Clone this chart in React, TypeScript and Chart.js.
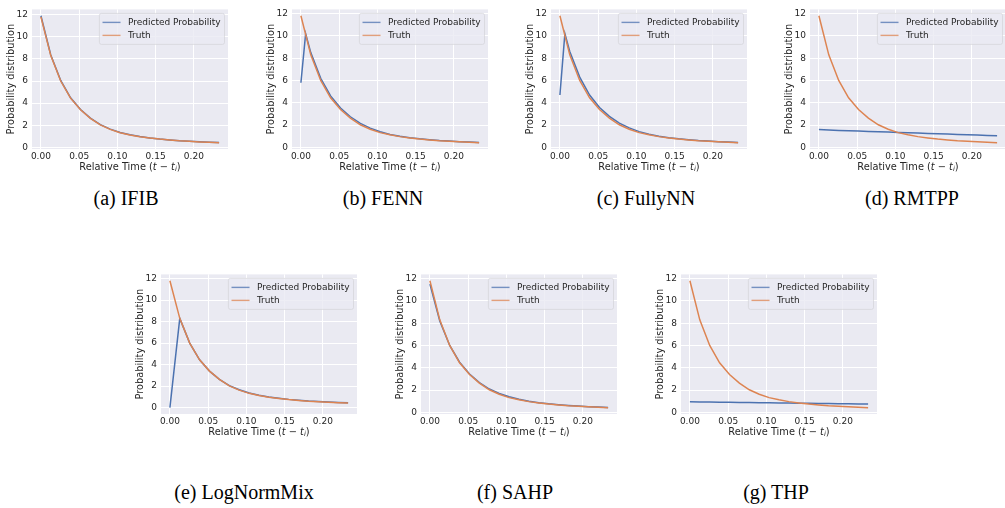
import React, { useEffect, useRef } from "react";
import { Chart, registerables } from "chart.js";
Chart.register(...registerables);

// ---- data ----
const T = [0, 0.0129, 0.0259, 0.0388, 0.0518, 0.0647, 0.0777, 0.0906, 0.1036, 0.1165, 0.1294, 0.1424, 0.1553, 0.1683, 0.1812, 0.1942, 0.2071, 0.2201, 0.233];
const TRUTH = [11.8, 8.3, 6.0, 4.45, 3.4, 2.63, 2.03, 1.63, 1.33, 1.13, 0.97, 0.85, 0.75, 0.67, 0.6, 0.55, 0.5, 0.46, 0.43];

const T_IFIB = T;
const P_IFIB = [11.9, 8.35, 6.05, 4.48, 3.42, 2.65, 2.06, 1.65, 1.35, 1.15, 0.99, 0.86, 0.76, 0.68, 0.61, 0.56, 0.51, 0.47, 0.44];

const T_FENN = [0, 0.0062, 0.0129, 0.0259, 0.0388, 0.0518, 0.0647, 0.0777, 0.0906, 0.1036, 0.1165, 0.1294, 0.1424, 0.1553, 0.1683, 0.1812, 0.1942, 0.2071, 0.2201, 0.233];
const P_FENN = [5.8, 10.2, 8.5, 6.2, 4.62, 3.53, 2.75, 2.15, 1.73, 1.4, 1.17, 1.0, 0.87, 0.77, 0.69, 0.62, 0.57, 0.52, 0.48, 0.45];

const T_FULLYNN = [0, 0.0065, 0.0129, 0.0259, 0.0388, 0.0518, 0.0647, 0.0777, 0.0906, 0.1036, 0.1165, 0.1294, 0.1424, 0.1553, 0.1683, 0.1812, 0.1942, 0.2071, 0.2201, 0.233];
const P_FULLYNN = [4.7, 10.2, 8.6, 6.3, 4.7, 3.58, 2.78, 2.18, 1.75, 1.42, 1.18, 1.0, 0.87, 0.77, 0.69, 0.62, 0.57, 0.52, 0.48, 0.45];

const T_RMTPP = T;
const P_RMTPP = [1.6, 1.57, 1.53, 1.5, 1.47, 1.44, 1.41, 1.38, 1.35, 1.32, 1.29, 1.26, 1.23, 1.2, 1.17, 1.14, 1.11, 1.08, 1.05];

const T_LOGNORM = T;
const P_LOGNORM = [0, 8.3, 6.0, 4.45, 3.4, 2.63, 2.05, 1.66, 1.36, 1.15, 0.99, 0.87, 0.77, 0.69, 0.62, 0.57, 0.52, 0.48, 0.45];

const T_SAHP = T;
const P_SAHP = [11.5, 8.2, 6.0, 4.5, 3.45, 2.68, 2.1, 1.7, 1.4, 1.18, 1.01, 0.88, 0.78, 0.7, 0.63, 0.57, 0.52, 0.48, 0.45];

const T_THP = T;
const P_THP = [0.95, 0.94, 0.93, 0.92, 0.91, 0.9, 0.89, 0.875, 0.865, 0.855, 0.845, 0.835, 0.82, 0.81, 0.8, 0.79, 0.775, 0.765, 0.755];

const X_TICKS = [0, 0.05, 0.1, 0.15, 0.2];
const Y_TICKS = [0, 2, 4, 6, 8, 10, 12];
const LEGEND_LABELS = ["Predicted Probability", "Truth"];
const X_TITLE = "Relative Time";
const Y_TITLE = "Probability distribution";

const BLUE = "#4C72B0";
const ORANGE = "#DD8452";
const TEXT = "#262626";
const BG = "#EAEAF2";

type PanelDef = {
  px: number[];
  py: number[];
  plotLeft: number;
  plotTop: number;
  caption: string;
  capX: number;
  capY: number;
};

const PANELS: PanelDef[] = [
  { px: T_IFIB, py: P_IFIB, plotLeft: 32, plotTop: 2, caption: "(a) IFIB", capX: 126, capY: 198 },
  { px: T_FENN, py: P_FENN, plotLeft: 292, plotTop: 2, caption: "(b) FENN", capX: 383, capY: 198 },
  { px: T_FULLYNN, py: P_FULLYNN, plotLeft: 551, plotTop: 2, caption: "(c) FullyNN", capX: 646, capY: 198 },
  { px: T_RMTPP, py: P_RMTPP, plotLeft: 810, plotTop: 2, caption: "(d) RMTPP", capX: 912, capY: 198 },
  { px: T_LOGNORM, py: P_LOGNORM, plotLeft: 161, plotTop: 267, caption: "(e) LogNormMix", capX: 244, capY: 492 },
  { px: T_SAHP, py: P_SAHP, plotLeft: 421, plotTop: 267, caption: "(f) SAHP", capX: 515, capY: 492 },
  { px: T_THP, py: P_THP, plotLeft: 681, plotTop: 267, caption: "(g) THP", capX: 776, capY: 492 },
];

const PLOT_W = 196;
const PLOT_H = 147;
const Y_AXIS_W = 32;
const X_AXIS_H = 26;
const PAD_TOP = 2;
const PAD_RIGHT = 6;
const CANVAS_W = Y_AXIS_W + PLOT_W + PAD_RIGHT;
const CANVAS_H = PAD_TOP + PLOT_H + X_AXIS_H;

const bgPlugin = {
  id: "bgArea",
  beforeDraw(chart: any) {
    const a = chart.chartArea;
    const ctx = chart.ctx;
    ctx.save();
    ctx.fillStyle = BG;
    ctx.fillRect(a.left, a.top, a.right - a.left, a.bottom - a.top);
    ctx.restore();
  },
};

const decorPlugin = {
  id: "decor",
  afterDraw(chart: any) {
    const a = chart.chartArea;
    const ctx = chart.ctx;
    ctx.save();
    // legend
    ctx.font = '9px "DejaVu Sans"';
    const tw = Math.max(...LEGEND_LABELS.map((l) => ctx.measureText(l).width));
    const w = 3.6 + 18 + 7.2 + tw + 3.6;
    const h = 31;
    const x0 = a.right - 4 - w;
    const y0 = a.top + 3.5;
    ctx.beginPath();
    (ctx as any).roundRect(x0 + 0.5, y0 + 0.5, w, h, 2);
    ctx.fillStyle = "rgba(234,234,242,0.8)";
    ctx.fill();
    ctx.strokeStyle = "rgba(210,210,214,0.8)";
    ctx.lineWidth = 0.8;
    ctx.stroke();
    const cols = [BLUE, ORANGE];
    LEGEND_LABELS.forEach((lab, i) => {
      const yy = y0 + 9.5 + i * 13;
      ctx.beginPath();
      ctx.moveTo(x0 + 3.6, yy);
      ctx.lineTo(x0 + 21.6, yy);
      ctx.strokeStyle = cols[i];
      ctx.globalAlpha = 0.75;
      ctx.lineWidth = 1.4;
      ctx.stroke();
      ctx.globalAlpha = 1;
      ctx.fillStyle = TEXT;
      ctx.textBaseline = "middle";
      ctx.textAlign = "left";
      ctx.fillText(lab, x0 + 29, yy);
    });

    // x title: Relative Time (t − t_i)
    const fs = 9.8;
    const normal = `${fs}px "DejaVu Sans"`;
    const italic = `italic ${fs}px "DejaVu Sans"`;
    const sub = `italic ${fs * 0.7}px "DejaVu Sans"`;
    const parts: [string, string, number][] = [
      [X_TITLE + " (", normal, 0],
      ["t", italic, 0],
      [" \u2212 ", normal, 0],
      ["t", italic, 0],
      ["i", sub, 2],
      [")", normal, 0],
    ];
    let total = 0;
    parts.forEach(([s, f]) => {
      ctx.font = f;
      total += ctx.measureText(s).width;
    });
    let cx = (a.left + a.right) / 2 - total / 2;
    const cy = a.bottom + 18;
    ctx.fillStyle = TEXT;
    ctx.textBaseline = "middle";
    ctx.textAlign = "left";
    parts.forEach(([s, f, dy]) => {
      ctx.font = f;
      ctx.fillText(s, cx, cy + dy);
      cx += ctx.measureText(s).width;
    });

    // y title
    ctx.translate(a.left - 20.5, (a.top + a.bottom) / 2);
    ctx.rotate(-Math.PI / 2);
    ctx.font = normal;
    ctx.textAlign = "center";
    ctx.textBaseline = "middle";
    ctx.fillText(Y_TITLE, 0, 0);
    ctx.restore();
  },
};

function Panel({ def }: { def: PanelDef }) {
  const ref = useRef<HTMLCanvasElement>(null);
  useEffect(() => {
    if (!ref.current) return;
    const xs = [...def.px, ...T];
    const ys = [...def.py, ...TRUTH];
    const xmin = Math.min(...xs), xmax = Math.max(...xs);
    const ymin = Math.min(...ys), ymax = Math.max(...ys);
    const xm = 0.05 * (xmax - xmin);
    const ym = 0.05 * (ymax - ymin);
    const tickFont = { family: "DejaVu Sans", size: 9 };
    const chart = new Chart(ref.current, {
      type: "line",
      data: {
        datasets: [
          {
            label: LEGEND_LABELS[1],
            data: T.map((x, i) => ({ x, y: TRUTH[i] })),
            borderColor: ORANGE,
            borderWidth: 1.5,
            pointRadius: 0,
            tension: 0,
            fill: false,
          },
          {
            label: LEGEND_LABELS[0],
            data: def.px.map((x, i) => ({ x, y: def.py[i] })),
            borderColor: BLUE,
            borderWidth: 1.5,
            pointRadius: 0,
            tension: 0,
            fill: false,
          },
        ],
      },
      options: {
        animation: false,
        responsive: false,
        events: [],
        layout: { padding: { top: PAD_TOP, right: PAD_RIGHT, left: 0, bottom: 0 } },
        plugins: { legend: { display: false }, tooltip: { enabled: false } },
        scales: {
          x: {
            type: "linear",
            min: xmin - xm,
            max: xmax + xm,
            afterFit: (s: any) => {
              s.height = X_AXIS_H;
            },
            afterBuildTicks: (s: any) => {
              s.ticks = X_TICKS.map((v) => ({ value: v }));
            },
            ticks: {
              callback: (v: any) => Number(v).toFixed(2),
              color: TEXT,
              font: tickFont,
              padding: 2,
              maxRotation: 0,
              autoSkip: false,
            },
            grid: { color: "#ffffff", lineWidth: 1, drawTicks: false },
            border: { display: false },
          },
          y: {
            type: "linear",
            min: ymin - ym,
            max: ymax + ym,
            afterFit: (s: any) => {
              s.width = Y_AXIS_W;
            },
            afterBuildTicks: (s: any) => {
              s.ticks = Y_TICKS.map((v) => ({ value: v }));
            },
            ticks: {
              callback: (v: any) => String(Math.round(Number(v))),
              color: TEXT,
              font: tickFont,
              padding: 4,
              autoSkip: false,
            },
            grid: { color: "#ffffff", lineWidth: 1, drawTicks: false },
            border: { display: false },
          },
        },
      },
      plugins: [bgPlugin, decorPlugin],
    } as any);
    return () => chart.destroy();
  }, [def]);
  return (
    <canvas
      ref={ref}
      width={CANVAS_W}
      height={CANVAS_H}
      style={{
        position: "absolute",
        left: def.plotLeft - Y_AXIS_W,
        top: def.plotTop - PAD_TOP,
        width: CANVAS_W,
        height: CANVAS_H,
      }}
    />
  );
}

export default function App() {
  return (
    <div
      style={{
        position: "absolute",
        left: 0,
        top: 0,
        width: 1005,
        height: 508,
        overflow: "hidden",
        background: "#ffffff",
      }}
    >
      {PANELS.map((p, i) => (
        <React.Fragment key={i}>
          <Panel def={p} />
          <div
            style={{
              position: "absolute",
              left: p.capX,
              top: p.capY - 11,
              transform: "translateX(-50%)",
              fontFamily: '"Liberation Serif", serif',
              fontSize: 20,
              lineHeight: "22px",
              color: "#000",
              whiteSpace: "nowrap",
            }}
          >
            {p.caption}
          </div>
        </React.Fragment>
      ))}
    </div>
  );
}
